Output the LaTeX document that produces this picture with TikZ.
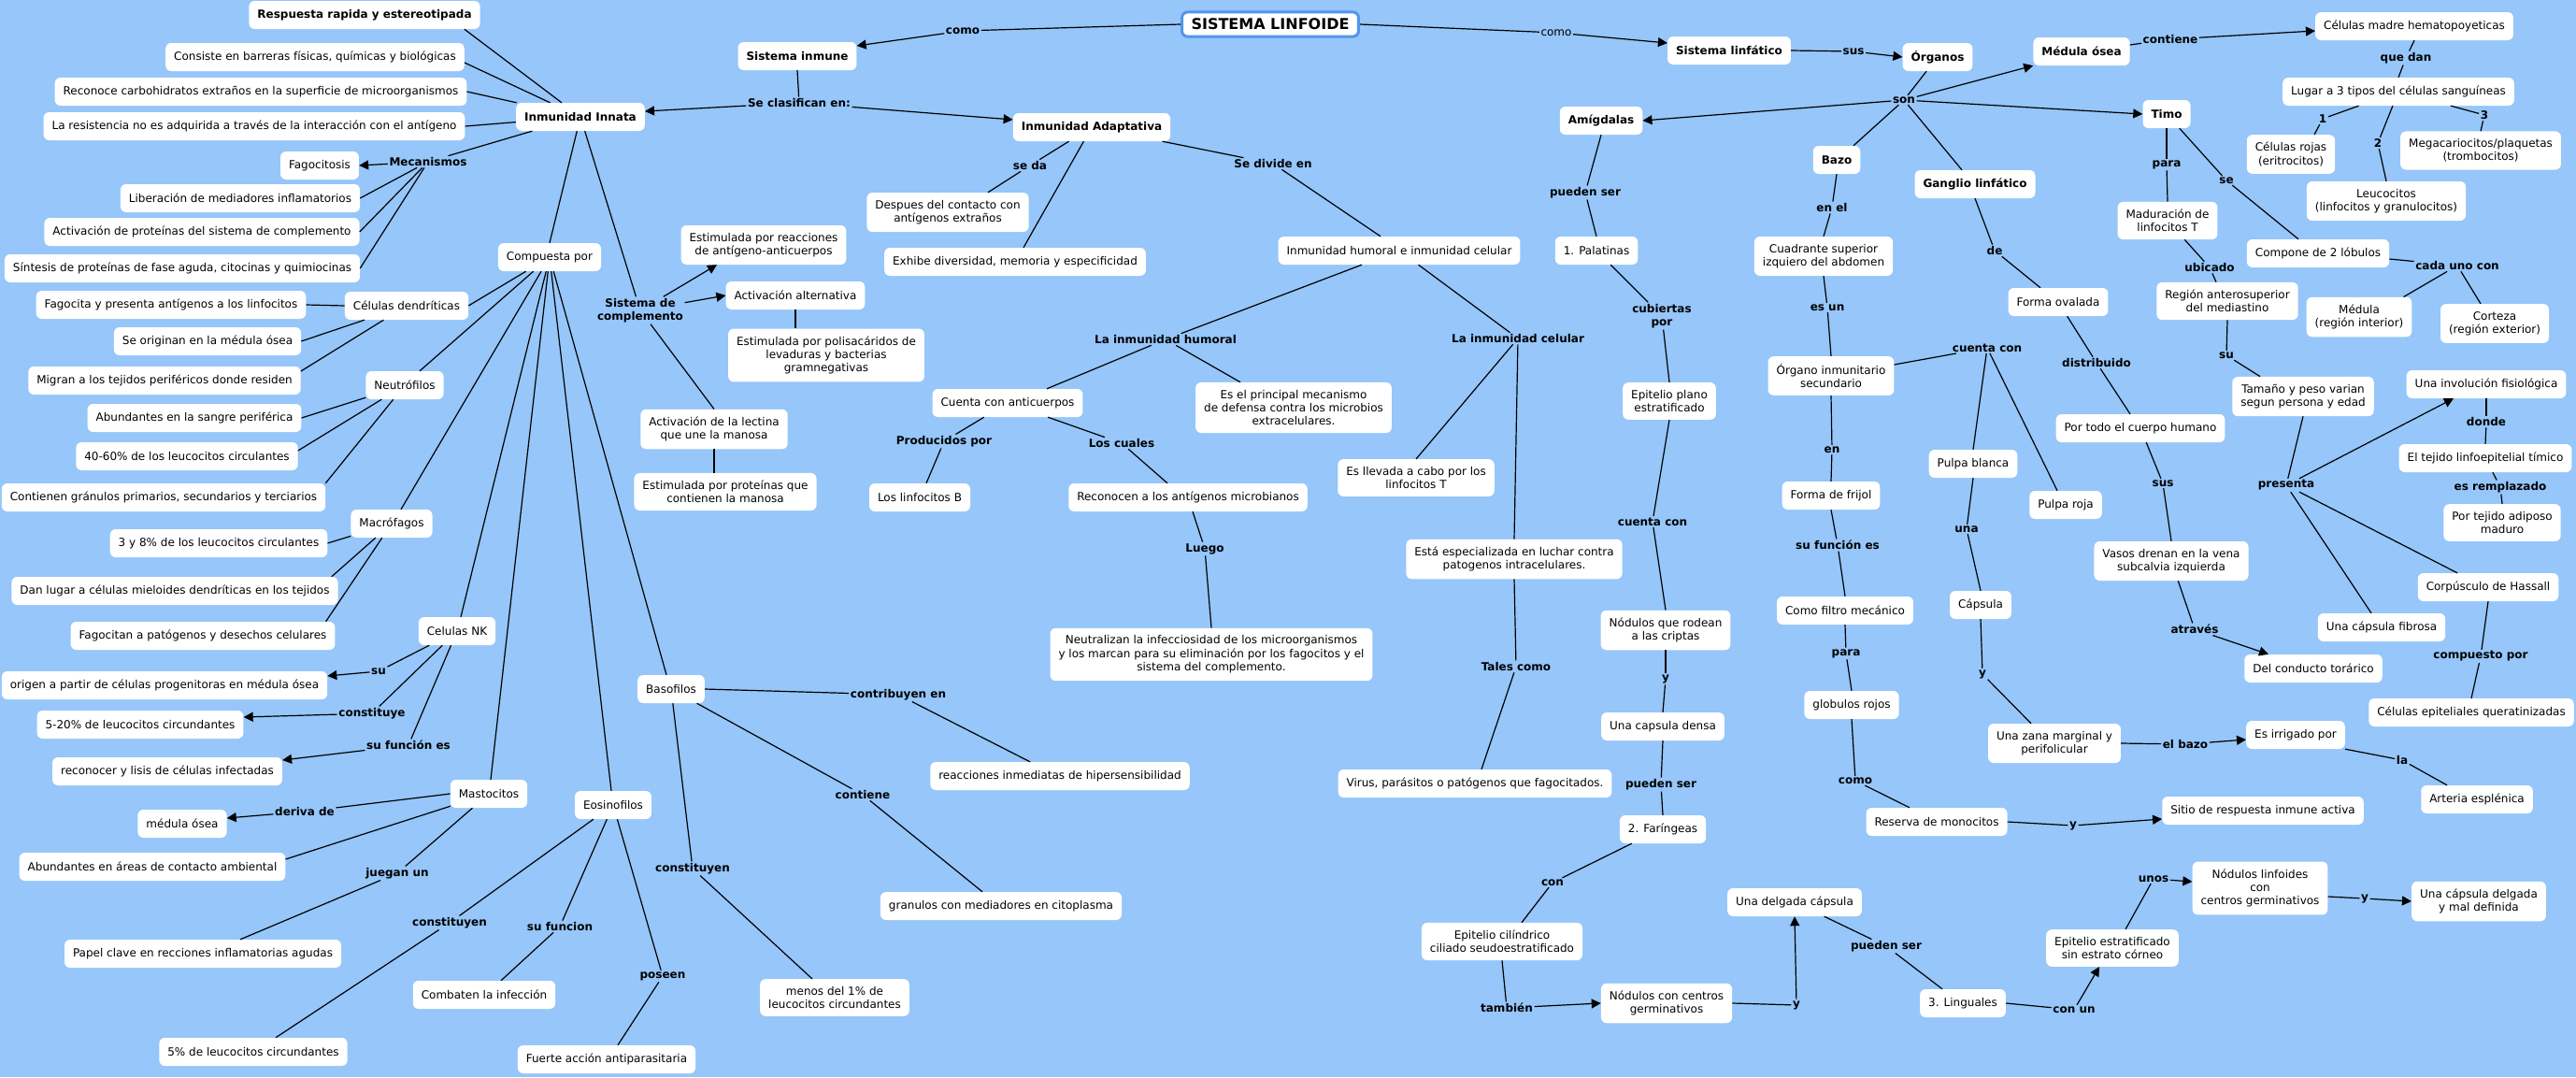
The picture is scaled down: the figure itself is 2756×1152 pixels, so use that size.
\documentclass[tikz,border=0pt]{standalone}
\usepackage{fontspec}
\setmainfont{DejaVu Sans}
\usetikzlibrary{arrows.meta}
\definecolor{bgc}{RGB}{150,198,250}
\definecolor{tbl}{RGB}{80,150,235}
\newcommand\cmLL[3]{\draw[ln] (#1) -- (#2); \draw[ln] (#2) -- (#3);}
\newcommand\cmLA[3]{\draw[ln] (#1) -- (#2); \draw[arw] (#2) -- (#3);}
\begin{document}
\begin{tikzpicture}[x=1pt,y=-1pt,
  cpt/.style={fill=white, rounded corners=6pt, inner xsep=9pt, inner ysep=8pt, minimum height=30pt, align=center, font=\fontsize{12}{14.4}\selectfont},
  bcpt/.style={cpt, font=\bfseries\fontsize{12}{14.4}\selectfont},
  lnk/.style={inner sep=1.5pt, align=center, font=\bfseries\fontsize{12}{14.4}\selectfont},
  lnkr/.style={lnk, font=\fontsize{12}{14.4}\selectfont},
  ttl/.style={fill=white, draw=tbl, line width=3pt, rounded corners=6pt, inner xsep=10pt, inner ysep=7pt, font=\bfseries\fontsize{16}{19}\selectfont},
  ln/.style={line width=1.2pt, draw=black},
  arw/.style={ln, -{Triangle[length=10pt,width=10pt]}}]
\useasboundingbox (0,0) rectangle (2756,1152);
\fill[bgc] (0,0) rectangle (2756,1152);

% ---------- left part ----------
\node[bcpt] (resp) at (390,16) {Respuesta rapida y estereotipada};
\node[cpt] (cons) at (337,61) {Consiste en barreras físicas, químicas y biológicas};
\node[cpt] (reco) at (279,98) {Reconoce carbohidratos extraños en la superficie de microorganismos};
\node[cpt] (resi) at (272,135) {La resistencia no es adquirida a través de la interacción con el antígeno};
\node[bcpt] (innata) at (621,125) {Inmunidad Innata};
\node[lnk] (mec) at (458,173) {Mecanismos};
\node[cpt] (fago) at (342,177) {Fagocitosis};
\node[cpt] (libe) at (257,212) {Liberación de mediadores inflamatorios};
\node[cpt] (actp) at (216,248) {Activación de proteínas del sistema de complemento};
\node[cpt] (sint) at (195,287) {Síntesis de proteínas de fase aguda, citocinas y quimiocinas};
\node[cpt] (comp) at (588,275) {Compuesta por};
\node[cpt] (fagp) at (183,326) {Fagocita y presenta antígenos a los linfocitos};
\node[cpt] (dend) at (435,327) {Células dendríticas};
\node[cpt] (orig) at (222,365) {Se originan en la médula ósea};
\node[lnk] (sisc) at (685,332) {Sistema de\\complemento};
\node[cpt] (migr) at (176,407) {Migran a los tejidos periféricos donde residen};
\node[cpt] (neut) at (433,412) {Neutrófilos};
\node[cpt] (abun) at (208,447) {Abundantes en la sangre periférica};
\node[cpt] (n4060) at (200,488) {40-60\% de los leucocitos circulantes};
\node[cpt] (gran) at (175,532) {Contienen gránulos primarios, secundarios y terciarios};
\node[cpt] (macr) at (419,560) {Macrófagos};
\node[cpt] (m38) at (234,581) {3 y 8\% de los leucocitos circulantes};
\node[cpt] (danl) at (187,632) {Dan lugar a células mieloides dendríticas en los tejidos};
\node[cpt] (fagn) at (217,680) {Fagocitan a patógenos y desechos celulares};
\node[cpt] (nk) at (489,675) {Celulas NK};
\node[lnk] (su1) at (405,718) {su};
\node[cpt] (orpa) at (176,733) {origen a partir de células progenitoras en médula ósea};
\node[lnk] (const1) at (398,763) {constituye};
\node[cpt] (p520) at (150,775) {5-20\% de leucocitos circundantes};
\node[lnk] (sfe1) at (437,797) {su función es};
\node[cpt] (reli) at (179,825) {reconocer y lisis de células infectadas};
\node[cpt] (mast) at (523,849) {Mastocitos};
\node[cpt] (eosi) at (656,861) {Eosinofilos};
\node[lnk] (deri) at (326,868) {deriva de};
\node[cpt] (medo2) at (195,881) {médula ósea};
\node[cpt] (abar) at (163,927) {Abundantes en áreas de contacto ambiental};
\node[lnk] (jueg) at (425,934) {juegan un};
\node[lnk] (const2) at (481,987) {constituyen};
\node[lnk] (sfun) at (599,991) {su funcion};
\node[cpt] (pape) at (217,1020) {Papel clave en recciones inflamatorias agudas};
\node[cpt] (comb) at (518,1064) {Combaten la infección};
\node[cpt] (p5) at (271,1125) {5\% de leucocitos circundantes};
\node[cpt] (fuer) at (649,1133) {Fuerte acción antiparasitaria};
\node[lnk] (pose) at (709,1044) {poseen};

% ---------- middle ----------
\node[cpt] (polis) at (884,380) {Estimulada por polisacáridos de\\levaduras y bacterias\\gramnegativas};
\node[cpt] (lect) at (764,459) {Activación de la lectina\\que une la manosa};
\node[cpt] (prot) at (776,526) {Estimulada por proteínas que\\contienen la manosa};
\node[cpt] (cuen) at (1078,431) {Cuenta con anticuerpos};
\node[lnk] (prod) at (1010,472) {Producidos por};
\node[lnk] (cual) at (1200,474) {Los cuales};
\node[cpt] (linb) at (984,532) {Los linfocitos B};
\node[cpt] (reca) at (1271,532) {Reconocen a los antígenos microbianos};
\node[cpt] (prin) at (1384,436) {Es el principal mecanismo\\de defensa contra los microbios\\extracelulares.};
\node[lnk] (lueg) at (1289,587) {Luego};
\node[cpt] (neutr) at (1296,700) {Neutralizan la infecciosidad de los microorganismos\\y los marcan para su eliminación por los fagocitos y el\\sistema del complemento.};
\node[cpt] (baso) at (718,737) {Basofilos};
\node[lnk] (contr) at (961,743) {contribuyen en};
\node[cpt] (reac) at (1134,830) {reacciones inmediatas de hipersensibilidad};
\node[lnk] (cont1) at (923,850) {contiene};
\node[lnk] (const3) at (741,929) {constituyen};
\node[cpt] (granc) at (1071,969) {granulos con mediadores en citoplasma};
\node[cpt] (men1) at (893,1067) {menos del 1\% de\\leucocitos circundantes};

\node[lnk] (como1) at (1030,33) {como};
\node[ttl] (sl) at (1359,26) {SISTEMA LINFOIDE};
\node[bcpt] (sinm) at (853,60) {Sistema inmune};
\node[lnk] (secl) at (855,110) {Se clasifican en:};
\node[bcpt] (adap) at (1168,136) {Inmunidad Adaptativa};
\node[lnk] (seda) at (1102,177) {se da};
\node[cpt] (desp) at (1014,227) {Despues del contacto con\\antígenos extraños};
\node[cpt] (exhi) at (1086,280) {Exhibe diversidad, memoria y especificidad};
\node[cpt] (esre) at (817,262) {Estimulada por reacciones\\de antígeno-anticuerpos};
\node[cpt] (acal) at (851,316) {Activación alternativa};
\node[lnk] (sedi) at (1362,175) {Se divide en};
\node[lnk] (lihu) at (1247,363) {La inmunidad humoral};
\node[cpt] (ihic) at (1497,268) {Inmunidad humoral e inmunidad celular};

% ---------- right ----------
\node[lnkr] (como2) at (1665,35) {como};
\node[bcpt] (slin) at (1850,54) {Sistema linfático};
\node[lnk] (sus1) at (1983,55) {sus};
\node[bcpt] (orga) at (2073,61) {Órganos};
\node[lnk] (son) at (2037,107) {son};
\node[bcpt] (amig) at (1713,129) {Amígdalas};
\node[bcpt] (bazo) at (1965,171) {Bazo};
\node[lnk] (pue1) at (1696,206) {pueden ser};
\node[lnk] (enel) at (1960,222) {en el};
\node[cpt] (pala) at (1708,268) {1. Palatinas};
\node[cpt] (cuad) at (1951,274) {Cuadrante superior\\izquiero del abdomen};
\node[lnk] (lice) at (1624,362) {La inmunidad celular};
\node[lnk] (cubi) at (1778,338) {cubiertas\\por};
\node[lnk] (esun) at (1955,329) {es un};
\node[cpt] (orgi) at (1959,402) {Órgano inmunitario\\secundario};

\node[bcpt] (medu) at (2227,55) {Médula ósea};
\node[lnk] (cont2) at (2322,42) {contiene};
\node[cpt] (cmad) at (2583,28) {Células madre hematopoyeticas};
\node[lnk] (qued) at (2574,62) {que dan};
\node[cpt] (luga) at (2566,98) {Lugar a 3 tipos del células sanguíneas};
\node[bcpt] (timo) at (2318,122) {Timo};
\node[lnk] (n1) at (2485,127) {1};
\node[lnk] (n2) at (2544,153) {2};
\node[lnk] (n3) at (2658,123) {3};
\node[cpt] (roja) at (2451,165) {Células rojas\\(eritrocitos)};
\node[cpt] (mega) at (2654,161) {Megacariocitos/plaquetas\\(trombocitos)};
\node[cpt] (leuc) at (2553,215) {Leucocitos\\(linfocitos y granulocitos)};
\node[bcpt] (gang) at (2113,197) {Ganglio linfático};
\node[lnk] (para1) at (2318,176) {para};
\node[lnk] (se) at (2382,193) {se};
\node[cpt] (madu) at (2319,236) {Maduración de\\linfocitos T};
\node[lnk] (de) at (2134,268) {de};
\node[cpt] (comp2) at (2480,271) {Compone de 2 lóbulos};
\node[lnk] (cada) at (2629,284) {cada uno con};
\node[lnk] (ubic) at (2364,286) {ubicado};
\node[cpt] (regi) at (2383,322) {Región anterosuperior\\del mediastino};
\node[cpt] (oval) at (2202,323) {Forma ovalada};
\node[cpt] (medr) at (2524,339) {Médula\\(región interior)};
\node[cpt] (cort) at (2669,346) {Corteza\\(región exterior)};
\node[lnk] (cuc1) at (2126,372) {cuenta con};
\node[lnk] (dist) at (2243,388) {distribuido};
\node[lnk] (su2) at (2382,380) {su};

\node[cpt] (tama) at (2464,424) {Tamaño y peso varian\\segun persona y edad};
\node[cpt] (invo) at (2660,411) {Una involución fisiológica};
\node[cpt] (todo) at (2290,458) {Por todo el cuerpo humano};
\node[lnk] (dond) at (2660,451) {donde};
\node[cpt] (pbla) at (2111,496) {Pulpa blanca};
\node[cpt] (teji) at (2659,490) {El tejido linfoepitelial tímico};
\node[lnk] (sus2) at (2314,517) {sus};
\node[lnk] (pres) at (2446,519) {presenta};
\node[lnk] (esre2) at (2675,521) {es remplazado};
\node[cpt] (proj) at (2210,540) {Pulpa roja};
\node[lnk] (una) at (2104,566) {una};
\node[cpt] (adip) at (2677,559) {Por tejido adiposo\\maduro};
\node[cpt] (vaso) at (2323,600) {Vasos drenan en la vena\\subcalvia izquierda};
\node[cpt] (hass) at (2662,628) {Corpúsculo de Hassall};
\node[cpt] (caps) at (2119,647) {Cápsula};
\node[lnk] (atra) at (2348,673) {através};
\node[cpt] (fibr) at (2548,671) {Una cápsula fibrosa};
\node[cpt] (tora) at (2475,715) {Del conducto torárico};
\node[lnk] (compp) at (2654,702) {compuesto por};
\node[lnk] (y1) at (2121,721) {y};
\node[cpt] (quer) at (2644,762) {Células epiteliales queratinizadas};

\node[cpt] (epla) at (1786,429) {Epitelio plano\\estratificado};
\node[cpt] (llev) at (1515,511) {Es llevada a cabo por los\\linfocitos T};
\node[lnk] (en) at (1960,481) {en};
\node[cpt] (frij) at (1959,530) {Forma de frijol};
\node[lnk] (cuc2) at (1768,558) {cuenta con};
\node[lnk] (sfe2) at (1966,583) {su función es};
\node[cpt] (espe) at (1620,598) {Está especializada en luchar contra\\patogenos intracelulares.};
\node[cpt] (filt) at (1974,653) {Como filtro mecánico};
\node[cpt] (nodr) at (1782,674) {Nódulos que rodean\\a las criptas};
\node[lnk] (para2) at (1975,699) {para};
\node[lnk] (tale) at (1622,713) {Tales como};
\node[lnk] (y2) at (1782,726) {y};
\node[cpt] (glob) at (1981,754) {globulos rojos};

\node[cpt] (cden) at (1779,777) {Una capsula densa};
\node[cpt] (viru) at (1578,838) {Virus, parásitos o patógenos que fagocitados.};
\node[lnk] (pue2) at (1777,839) {pueden ser};
\node[lnk] (como3) at (1985,835) {como};
\node[cpt] (rese) at (2072,879) {Reserva de monocitos};
\node[cpt] (fari) at (1779,887) {2. Faríngeas};
\node[lnk] (con) at (1661,944) {con};
\node[cpt] (delg) at (1920,965) {Una delgada cápsula};
\node[lnk] (pue3) at (2018,1012) {pueden ser};
\node[cpt] (cili) at (1607,1007) {Epitelio cilíndrico\\ciliado seudoestratificado};
\node[cpt] (nodg) at (1783,1073) {Nódulos con centros\\germinativos};
\node[lnk] (tamb) at (1612,1078) {también};
\node[lnk] (y3) at (1922,1075) {y};

\node[cpt] (zana) at (2198,795) {Una zana marginal y\\perifolicular};
\node[lnk] (elba) at (2338,796) {el bazo};
\node[cpt] (irri) at (2456,786) {Es irrigado por};
\node[lnk] (la) at (2570,813) {la};
\node[cpt] (arte) at (2650,855) {Arteria esplénica};
\node[cpt] (siti) at (2421,867) {Sitio de respuesta inmune activa};
\node[lnk] (y4) at (2218,883) {y};
\node[lnk] (unos) at (2304,940) {unos};
\node[cpt] (nodl) at (2418,950) {Nódulos linfoides\\con\\centros germinativos};
\node[lnk] (y5) at (2530,961) {y};
\node[cpt] (cdel) at (2652,964) {Una cápsula delgada\\y mal definida};
\node[cpt] (eest) at (2260,1014) {Epitelio estratificado\\sin estrato córneo};
\node[cpt] (ling) at (2100,1073) {3. Linguales};
\node[lnk] (conu) at (2219,1080) {con un};

% ---------- connectors ----------
\cmLA{sl.west}{como1}{[yshift=11pt]sinm.east}
\cmLA{sl.east}{como2}{[yshift=8pt]slin.west}
\cmLA{slin.east}{sus1}{orga.west}
\draw[ln] (sinm.south) -- (secl);
\draw[arw] (secl) -- ([yshift=6pt]innata.east);
\draw[arw] (secl) -- ([yshift=8pt]adap.west);

\draw[ln] (innata) -- ([xshift=-17pt]resp.south east);
\draw[ln] (innata) -- ([yshift=-6pt]cons.east);
\draw[ln] (innata) -- (reco.east);
\draw[ln] (innata) -- (resi.east);
\draw[ln] (innata) -- (mec);
\draw[ln] (innata) -- (comp.north);
\draw[ln] (innata) -- (sisc);

\draw[arw] (mec) -- (fago.east);
\draw[ln] (mec) -- (libe.east);
\draw[ln] (mec) -- (actp.east);
\draw[ln] (mec) -- (sint.east);

\draw[ln] (comp) -- (dend.east);
\draw[ln] (comp) -- ([xshift=16pt]neut.north);
\draw[ln] (comp) -- ([xshift=10pt]macr.north);
\draw[ln] (comp) -- ([xshift=4pt]nk.north);
\draw[ln] (comp) -- ([xshift=2pt]mast.north);
\draw[ln] (comp) -- ([xshift=-2pt]eosi.north);
\draw[ln] (comp) -- ([xshift=-5pt]baso.north);

\draw[ln] (dend.west) -- (fagp.east);
\draw[ln] (dend) -- (orig.east);
\draw[ln] (dend) -- ([yshift=10pt]migr.east);
\draw[ln] (neut) -- (abun.east);
\draw[ln] (neut) -- ([yshift=6pt]n4060.east);
\draw[ln] (neut) -- (gran.north east);
\draw[ln] (macr) -- (m38.east);
\draw[ln] (macr) -- ([xshift=-7pt]danl.north east);
\draw[ln] (macr) -- ([xshift=-10pt]fagn.north east);

\cmLA{nk}{su1}{[yshift=10pt]orpa.east}
\cmLA{nk}{const1}{[yshift=8pt]p520.east}
\cmLA{nk}{sfe1}{[yshift=12pt]reli.east}
\cmLA{mast.west}{deri}{[yshift=6pt]medo2.east}
\draw[ln] (mast) -- ([yshift=8pt]abar.east);
\cmLL{mast}{jueg}{[xshift=40pt]pape.north}
\cmLL{eosi}{const2}{[xshift=24pt]p5.north}
\cmLL{eosi}{sfun}{[xshift=18pt]comb.north}
\cmLL{eosi}{pose}{[xshift=12pt]fuer.north}
\cmLL{baso.east}{contr}{[xshift=-32pt]reac.north}
\cmLL{baso}{cont1}{[xshift=-20pt]granc.north}
\cmLL{baso}{const3}{[xshift=-24pt]men1.north}

\draw[arw] (sisc) -- ([xshift=-50pt]esre.south);
\draw[arw] (sisc) -- (acal.west);
\draw[ln] (sisc) -- (lect.north);
\draw[ln] (acal.south) -- (acal.south |- polis.north);
\draw[ln] (lect.south) -- (lect.south |- prot.north);

\cmLL{adap}{seda}{[xshift=43pt]desp.north}
\draw[ln] (adap) -- ([xshift=9pt]exhi.north);
\cmLL{adap}{sedi}{[xshift=-20pt]ihic.north}
\draw[ln] (ihic) -- (lihu);
\draw[ln] (lihu) -- ([xshift=42pt]cuen.north);
\draw[ln] (lihu) -- ([xshift=-57pt]prin.north);
\draw[ln] (ihic) -- (lice);
\draw[ln] (lice) -- (llev.north);
\draw[ln] (lice) -- (espe.north);
\cmLL{cuen}{prod}{[xshift=7pt]linb.north}
\cmLL{cuen}{cual}{[xshift=-22pt]reca.north}
\cmLL{reca}{lueg}{neutr.north}
\cmLL{espe.south}{tale}{[xshift=7pt]viru.north}

\draw[ln] (orga) -- (son);
\draw[arw] (son) -- (amig.east);
\draw[ln] (son) -- ([xshift=18pt]bazo.north);
\draw[arw] (son) -- (medu.south west);
\draw[arw] (son) -- (timo.west);
\draw[ln] (son) -- ([xshift=-14pt]gang.north);

\cmLA{[yshift=7pt]medu.east}{cont2}{[yshift=-5pt]cmad.west}
\cmLL{cmad.south}{qued}{luga.north}
\cmLL{luga}{n1}{[xshift=25pt]roja.north}
\cmLL{luga}{n2}{leuc.north}
\cmLL{luga}{n3}{mega.north}
\cmLL{timo.south}{para1}{madu.north}
\cmLL{timo}{se}{[xshift=-21pt]comp2.north}
\draw[ln] ([yshift=-6pt]comp2.east) -- (cada);
\draw[ln] (cada) -- ([xshift=-9pt]medr.north east);
\draw[ln] (cada) -- ([xshift=-15pt]cort.north);
\cmLL{madu}{ubic}{[xshift=-12pt]regi.north}
\cmLL{regi.south}{su2}{[xshift=-46pt]tama.north}
\draw[ln] (tama.south) -- (pres);
\draw[arw] (pres) -- ([xshift=-35pt]invo.south);
\draw[ln] (pres) -- ([xshift=-11pt]fibr.north);
\draw[ln] (pres) -- ([xshift=-33pt]hass.north);
\cmLL{invo.south}{dond}{teji.north}
\cmLL{teji}{esre2}{adip.north}
\cmLL{hass.south}{compp}{quer.north}

\cmLL{gang.south}{de}{[xshift=-19pt]oval.north}
\cmLL{oval}{dist}{[xshift=-11pt]todo.north}
\cmLL{todo}{sus2}{vaso.north}
\cmLA{vaso}{atra}{[xshift=-48pt]tora.north}

\cmLL{bazo.south}{enel}{cuad.north}
\cmLL{cuad.south}{esun}{orgi.north}
\draw[ln] ([yshift=12pt]orgi.east) -- (cuc1);
\draw[ln] (cuc1) -- (pbla.north);
\draw[ln] (cuc1) -- ([xshift=-9pt]proj.north);
\cmLL{orgi.south}{en}{frij.north}
\cmLL{frij.south}{sfe2}{filt.north}
\cmLL{filt.south}{para2}{glob.north}
\cmLL{glob.south}{como3}{[xshift=-29pt]rese.north}
\cmLA{rese.east}{y4}{[yshift=-9pt]siti.west}
\cmLL{pbla.south}{una}{caps.north}
\cmLL{caps.south}{y1}{[xshift=-25pt]zana.north}
\cmLA{zana.east}{elba}{[yshift=-5pt]irri.west}
\cmLL{irri.south east}{la}{[xshift=-32pt]arte.north}

\cmLL{amig.south}{pue1}{pala.north}
\cmLL{pala}{cubi}{epla.north}
\cmLL{epla.south}{cuc2}{nodr.north}
\cmLL{nodr.south}{y2}{cden.north}
\cmLL{cden.south}{pue2}{fari.north}
\cmLL{[xshift=13pt]fari.south west}{con}{[xshift=21pt]cili.north}
\cmLA{cili.south}{tamb}{nodg.west}
\cmLA{nodg.east}{y3}{delg.south}
\cmLL{delg}{pue3}{[xshift=-22pt]ling.north}
\cmLA{ling.east}{conu}{[xshift=-14pt]eest.south}
\cmLA{[xshift=14pt]eest.north}{unos}{[yshift=7pt]nodl.west}
\cmLA{[yshift=-9pt]nodl.east}{y5}{cdel.west}
\end{tikzpicture}
\end{document}
